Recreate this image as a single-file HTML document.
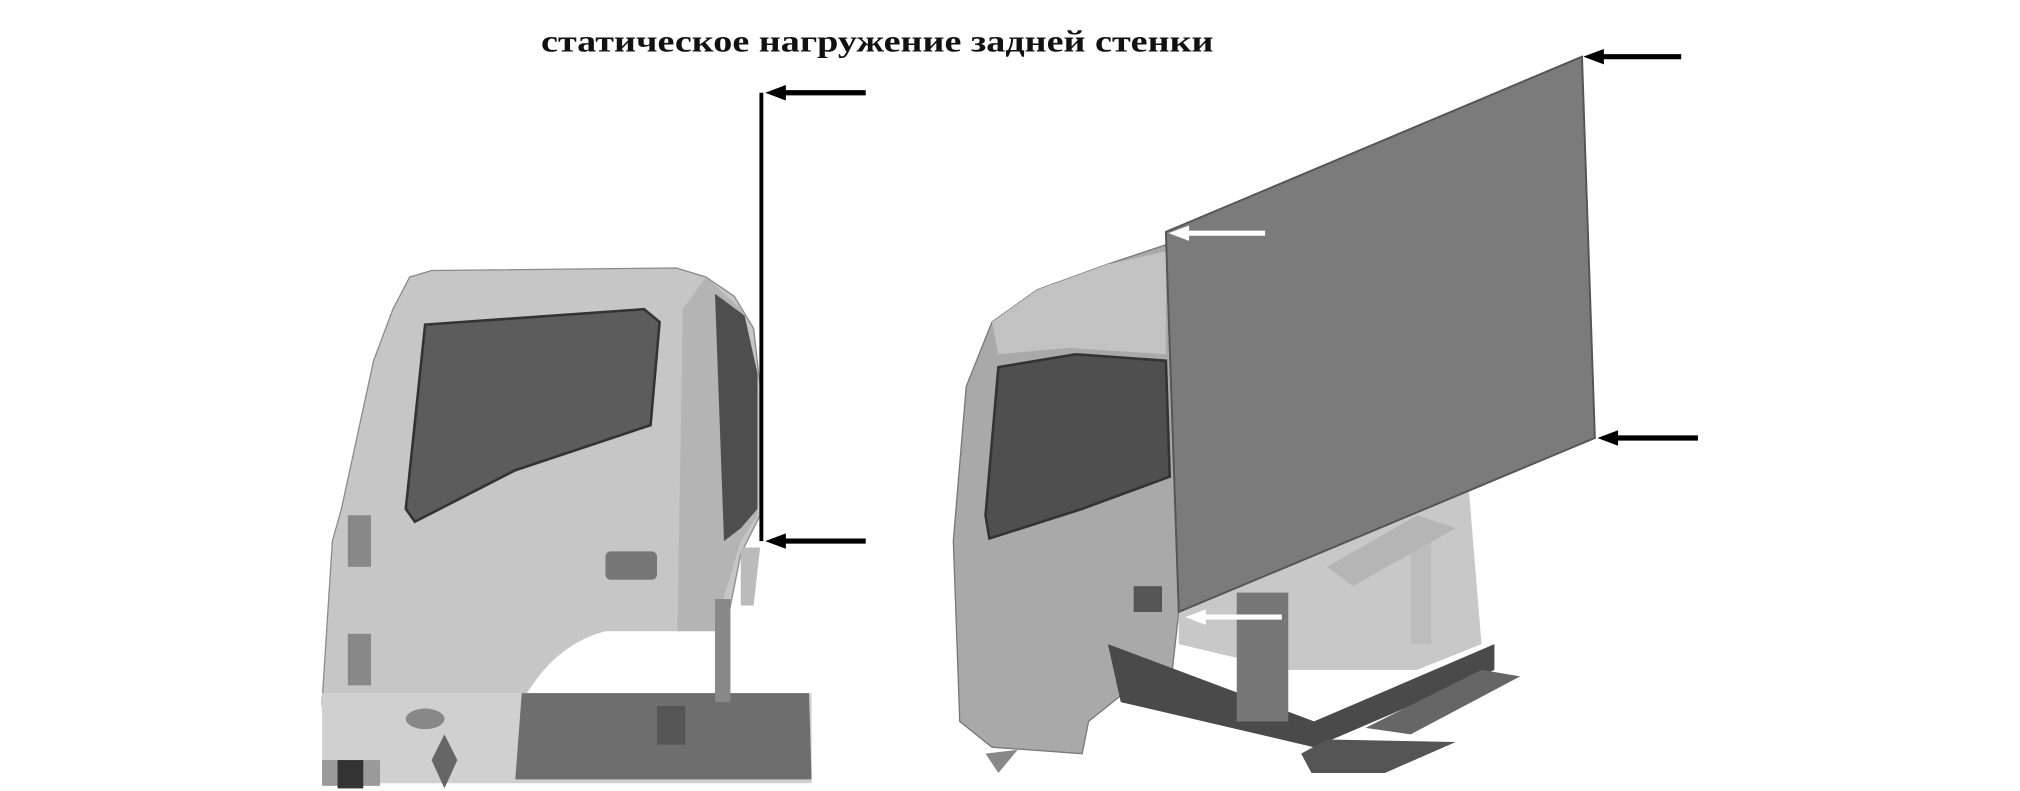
<!DOCTYPE html>
<html><head><meta charset="utf-8"><style>
html,body{margin:0;padding:0;background:#fff;}
svg{display:block;}
</style></head><body>
<svg width="2020" height="791" viewBox="0 0 1568 614" preserveAspectRatio="none" xmlns="http://www.w3.org/2000/svg">
<rect width="1568" height="614" fill="#fff"/>
<text x="420" y="40" textLength="522" lengthAdjust="spacingAndGlyphs" font-family="Liberation Serif, serif" font-weight="bold" font-size="24" fill="#111">статическое нагружение задней стенки</text>

<!-- left cab -->
<path d="M265,395 L290,280 L305,240 L318,215 L335,210 L525,208 L548,215 L570,230 L585,255 L590,300 L590,400 L575,430 L565,480 L560,540 L405,545 L400,600 L255,605 L250,545 L258,420 Z" fill="#c6c6c6" stroke="#8a8a8a"/>
<path d="M548,215 L575,240 L588,290 L588,400 L575,420 L560,470 L555,540 L525,545 L530,240 Z" fill="#b4b4b4"/>
<path d="M555,228 L578,245 L588,290 L588,395 L575,410 L562,420 Z" fill="#4e4e4e"/>
<path d="M330,252 L500,240 L512,250 L505,330 L400,365 L322,405 L315,395 Z" fill="#5c5c5c" stroke="#333" stroke-width="2"/>
<path d="M405,545 Q430,500 470,490 L555,490 L555,540 Z" fill="#fff"/>
<rect x="250" y="538" width="380" height="70" fill="#d0d0d0"/>
<path d="M405,538 L628,538 L630,605 L400,605 Z" fill="#6e6e6e"/>
<rect x="250" y="590" width="45" height="20" fill="#9a9a9a"/>
<rect x="262" y="590" width="20" height="22" fill="#333"/>
<ellipse cx="330" cy="558" rx="15" ry="8" fill="#888"/>
<path d="M345,570 L355,590 L345,612 L335,590 Z" fill="#666"/>
<rect x="555" y="465" width="12" height="80" fill="#888"/>
<path d="M575,425 L590,425 L585,470 L575,470 Z" fill="#bbb"/>
<rect x="470" y="428" width="40" height="22" rx="4" fill="#777"/>
<rect x="510" y="548" width="22" height="30" fill="#555"/>
<rect x="270" y="400" width="18" height="40" fill="#888"/>
<rect x="270" y="492" width="18" height="40" fill="#888"/>

<!-- left line and arrows -->
<line x1="591" y1="72" x2="591" y2="420" stroke="#000" stroke-width="3"/>
<line x1="606" y1="72" x2="672" y2="72" stroke="#000" stroke-width="4"/>
<path d="M594,72 L610,66 L610,78 Z" fill="#000"/>
<line x1="606" y1="420" x2="672" y2="420" stroke="#000" stroke-width="4"/>
<path d="M594,420 L610,414 L610,426 Z" fill="#000"/>

<!-- right cab -->
<path d="M750,300 L770,250 L805,225 L860,205 L905,190 L915,475 L910,520 L870,540 L845,560 L840,585 L770,580 L745,560 L740,420 Z" fill="#a9a9a9" stroke="#777"/>
<path d="M770,250 L805,225 L860,205 L905,195 L905,275 L830,270 L775,275 Z" fill="#c2c2c2"/>
<path d="M775,285 L835,275 L905,280 L908,370 L840,395 L768,418 L765,400 Z" fill="#4f4f4f" stroke="#333" stroke-width="2"/>
<!-- underframe -->
<path d="M915,470 L1140,378 L1150,500 L1100,520 L1000,520 L915,500 Z" fill="#c8c8c8"/>
<path d="M860,500 L1020,560 L1160,500 L1160,520 L1020,580 L870,545 Z" fill="#4a4a4a"/>
<path d="M1010,585 L1030,574 L1130,576 L1075,600 L1018,600 Z" fill="#555"/>
<path d="M1060,565 L1150,520 L1180,525 L1095,570 Z" fill="#666"/>
<rect x="960" y="460" width="40" height="100" fill="#777"/>
<rect x="1095" y="410" width="16" height="90" fill="#bdbdbd"/>
<path d="M1030,440 L1100,400 L1130,410 L1050,455 Z" fill="#b5b5b5"/>
<path d="M765,585 L790,582 L775,600 Z" fill="#888"/>
<rect x="880" y="455" width="22" height="20" fill="#555"/>

<!-- panel -->
<path d="M905,180 L1228,44 L1238,340 L915,475 Z" fill="#7b7b7b" stroke="#555" stroke-width="1.5"/>

<!-- right arrows -->
<line x1="1240" y1="44" x2="1305" y2="44" stroke="#000" stroke-width="4"/>
<path d="M1229,44 L1245,38 L1245,50 Z" fill="#000"/>
<line x1="1252" y1="340" x2="1318" y2="340" stroke="#000" stroke-width="4"/>
<path d="M1240,340 L1256,334 L1256,346 Z" fill="#000"/>
<line x1="918" y1="181" x2="982" y2="181" stroke="#fff" stroke-width="4"/>
<path d="M907,181 L923,175 L923,187 Z" fill="#fff"/>
<line x1="932" y1="479" x2="995" y2="479" stroke="#fff" stroke-width="4"/>
<path d="M920,479 L936,473 L936,485 Z" fill="#fff"/>
</svg>
</body></html>
